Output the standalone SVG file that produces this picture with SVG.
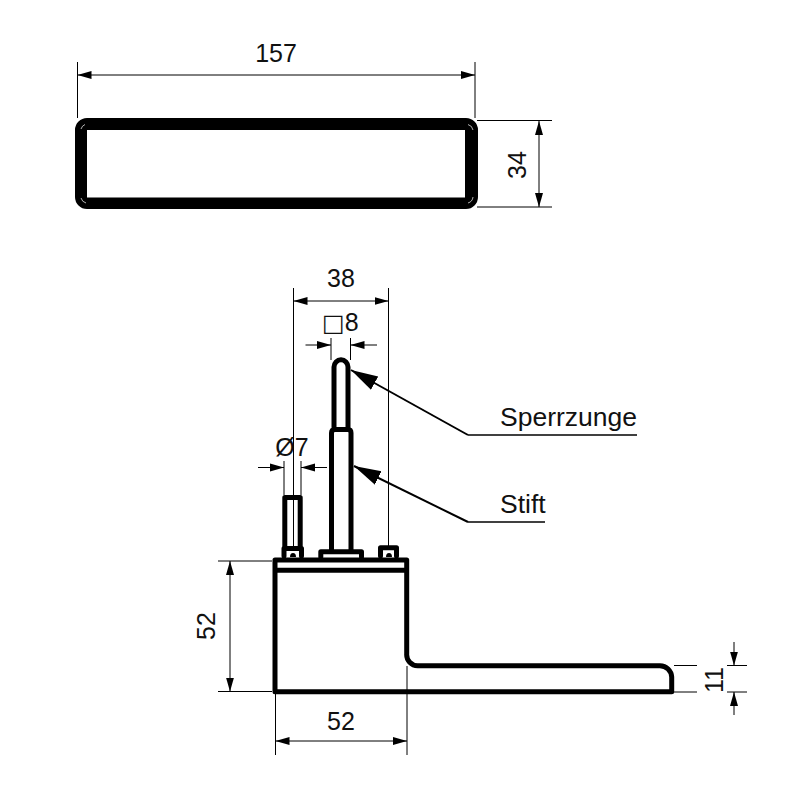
<svg xmlns="http://www.w3.org/2000/svg" width="800" height="800" viewBox="0 0 800 800">
<style>
.dim{fill:none;stroke:#000;stroke-width:1}
.da{marker-end:url(#a)}
.lead{fill:none;stroke:#000;stroke-width:2;marker-end:url(#b)}
.under{fill:none;stroke:#000;stroke-width:1.4}
.o{fill:none;stroke:#000;stroke-width:5;stroke-linejoin:round;stroke-linecap:round}
.t{font-family:"Liberation Sans",Arial,"DejaVu Sans",sans-serif;font-size:25px;fill:#111;text-anchor:middle}
.l{font-family:"Liberation Sans",Arial,sans-serif;font-size:26.500px;fill:#111}
</style>
<defs>
<marker id="a" markerUnits="userSpaceOnUse" markerWidth="16" markerHeight="10" refX="14" refY="5" orient="auto"><path d="M0 1L14 5L0 9Z"/></marker>
<marker id="b" markerUnits="userSpaceOnUse" markerWidth="30" markerHeight="20" refX="27" refY="10" orient="auto"><path d="M0 2.500L27 10L0 17.500Z"/></marker>
</defs>
<rect width="800" height="800" fill="#fff"/>
<g id="top-plate">
<path fill-rule="evenodd" d="M87 118H466A12 12 0 0 1 478 130V197A12 12 0 0 1 466 209H87A12 12 0 0 1 75 197V130A12 12 0 0 1 87 118ZM87 130V197.500H465V130Z"/>
<path d="M81 129A7 7 0 0 1 85 124.500M81 198A7 7 0 0 0 86 203M468 124.500A7 7 0 0 1 473 130M473 197A7 7 0 0 1 468 203" fill="none" stroke="#fff" stroke-width="0.7"/>
</g>
<g id="body">
<path class="o" d="M275 560H406.700V654A11 11 0 0 0 417.700 665.700H660A12 12 0 0 1 671.700 677V691.700H275Z"/>
<path d="M275 570.300H406" fill="none" stroke="#000" stroke-width="5"/>
</g>
<g id="pin-left">
<path class="o" d="M284.800 546V497.500H300.200V546"/>
<path class="o" d="M284 556V548.500H301.500V556"/>
<path d="M290 557a3 4 0 0 1 6 0Z"/>
</g>
<g id="stift">
<path class="o" d="M331.500 550V433Q331.500 429.500 335 429.500H348Q351 429.500 351 433V550"/>
<path class="o" d="M320.800 557V551.800H361.500V557"/>
</g>
<g id="sperrzunge">
<path class="o" d="M334 427V367A7 7.200 0 0 1 348 367V427"/>
</g>
<g id="pin-right">
<path class="o" d="M380.500 556V547.800H396.500V556"/>
<path d="M386 557a3 4 0 0 1 6 0Z"/>
</g>
<g id="connectors">
<path class="dim" d="M77.500 62V118M475 62V118M293.500 288V546M388.500 288V546M331 338V360M350.500 338V360M284 461V495M301 461V495M218 561H272M218 691.500H272M275.500 692V755M407 666V755M477 120.500H552M477 207H552M674 665.500H697M674 692H697M727 665.500H747M727 692H747"/>
<path class="dim da" d="M276 75H77.500"/><path class="dim da" d="M276 75H475"/>
<path class="dim da" d="M539 164V121"/><path class="dim da" d="M539 164V207"/>
<path class="dim da" d="M341 301H293.500"/><path class="dim da" d="M341 301H388.500"/>
<path class="dim da" d="M305.500 345H331"/><path class="dim da" d="M377 345H350.500"/>
<path class="dim da" d="M258 467.500H284"/><path class="dim da" d="M327 467.500H301"/>
<path class="dim da" d="M230 626V561"/><path class="dim da" d="M230 626V691.500"/>
<path class="dim da" d="M341 741H275.500"/><path class="dim da" d="M341 741H407"/>
<path class="dim da" d="M734 642V665.500"/><path class="dim da" d="M734 715V692"/>
<path class="lead" d="M468 435L351 370"/><path class="under" d="M468 435H637"/>
<path class="lead" d="M468 522L354 466"/><path class="under" d="M468 522H545"/>
</g>
<g id="labels">
<text class="t" x="276" y="62">157</text>
<text class="t" transform="translate(526 165) rotate(-90)">34</text>
<text class="t" x="341" y="287">38</text>
<text class="t" x="322" y="330.500" style="text-anchor:start"><tspan style="font-family:'DejaVu Sans',sans-serif;font-size:24px">□</tspan>8</text>
<text class="t" x="292" y="456">Ø7</text>
<text class="l" x="500" y="426">Sperrzunge</text>
<text class="l" x="500" y="513">Stift</text>
<text class="t" transform="translate(215 626) rotate(-90)">52</text>
<text class="t" x="341" y="730">52</text>
<text class="t" transform="translate(723 680) rotate(-90)">11</text>
</g>
</svg>
